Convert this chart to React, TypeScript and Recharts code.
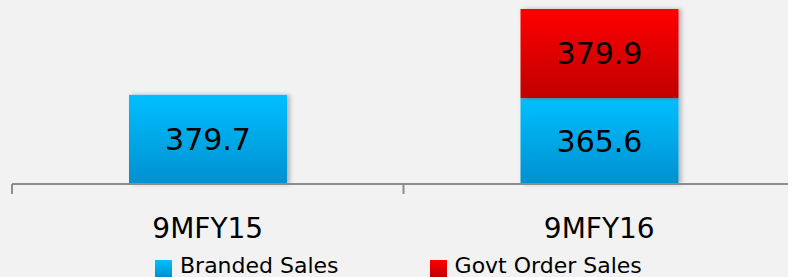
import { BarChart, Bar, XAxis, YAxis, Legend, LabelList } from "recharts";

const periods = ["9MFY15", "9MFY16"];
const brandedSales = [379.7, 365.6];
const govtOrderSales = [null, 379.9];

const data = periods.map((p, i) => ({
  period: p,
  branded: brandedSales[i],
  govt: govtOrderSales[i],
}));

const FONT = "'DejaVu Sans', Verdana, sans-serif";
const CHART_W = 800;
const MARGIN = { top: 4, right: 5, bottom: 0, left: 12 };
const BAND = (CHART_W - MARGIN.left - MARGIN.right) / periods.length;

const BarShape = (fillId: string) => (props: any) => {
  const { x, y, width, height } = props;
  if (!height || height <= 0) return <g />;
  return (
    <rect x={x} y={y} width={width} height={height} fill={`url(#${fillId})`} filter="url(#barShadow)" />
  );
};

const CategoryTick = (props: any) => {
  const { x, y, payload, index } = props;
  const left = x - BAND / 2;
  return (
    <g>
      {index === 0 && <line x1={left} x2={left} y1={y - 10} y2={y} stroke="#8c8c8c" strokeWidth={2} />}
      {index > 0 && <line x1={left} x2={left} y1={y - 10} y2={y} stroke="#8c8c8c" strokeWidth={2} />}
      <text x={x} y={y + 44} textAnchor="middle" fontSize={28} fontFamily={FONT} fill="#000">
        {payload.value}
      </text>
    </g>
  );
};

const legendItems = [
  { label: "Branded Sales", grad: "linear-gradient(#00bfff, #0090cf)" },
  { label: "Govt Order Sales", grad: "linear-gradient(#ff0000, #c00000)" },
];

const renderLegend = () => (
  <div style={{ display: "flex", height: 22, paddingLeft: 155, gap: 91, fontFamily: FONT, fontSize: 22, lineHeight: "22px", color: "#000" }}>
    {legendItems.map((it) => (
      <div key={it.label} style={{ display: "flex", alignItems: "flex-start" }}>
        <span style={{ display: "inline-block", width: 17, height: 17, marginTop: 5, marginRight: 8, background: it.grad }} />
        <span style={{ whiteSpace: "nowrap" }}>{it.label}</span>
      </div>
    ))}
  </div>
);

export default function App() {
  return (
    <div style={{ position: "fixed", left: 0, top: 0, width: 788, height: 277, overflow: "hidden", background: "#f2f2f2", fontFamily: FONT }}>
      <BarChart width={CHART_W} height={277} data={data} margin={MARGIN}>
        <defs>
          <linearGradient id="blueGrad" x1="0" y1="0" x2="0" y2="1">
            <stop offset="0%" stopColor="#00bfff" />
            <stop offset="100%" stopColor="#0090cf" />
          </linearGradient>
          <linearGradient id="redGrad" x1="0" y1="0" x2="0" y2="1">
            <stop offset="0%" stopColor="#ff0000" />
            <stop offset="100%" stopColor="#c00000" />
          </linearGradient>
          <filter id="barShadow" x="-10%" y="-10%" width="130%" height="120%">
            <feDropShadow dx={3} dy={0} stdDeviation={2} floodColor="#000" floodOpacity={0.25} />
          </filter>
        </defs>
        <XAxis
          dataKey="period"
          height={71}
          axisLine={{ stroke: "#8c8c8c", strokeWidth: 2 }}
          tickLine={false}
          tickSize={10}
          tickMargin={0}
          tick={<CategoryTick />}
          interval={0}
        />
        <YAxis hide domain={[0, 766.8]} />
        <Legend verticalAlign="bottom" content={renderLegend} wrapperStyle={{ left: 0, width: 788 }} />
        <Bar dataKey="branded" stackId="s" barSize={158} shape={BarShape("blueGrad")} isAnimationActive={false}>
          <LabelList dataKey="branded" position="center" fontSize={30} fontFamily={FONT} fill="#000" />
        </Bar>
        <Bar dataKey="govt" stackId="s" barSize={158} shape={BarShape("redGrad")} isAnimationActive={false}>
          <LabelList dataKey="govt" position="center" fontSize={30} fontFamily={FONT} fill="#000" />
        </Bar>
      </BarChart>
    </div>
  );
}
